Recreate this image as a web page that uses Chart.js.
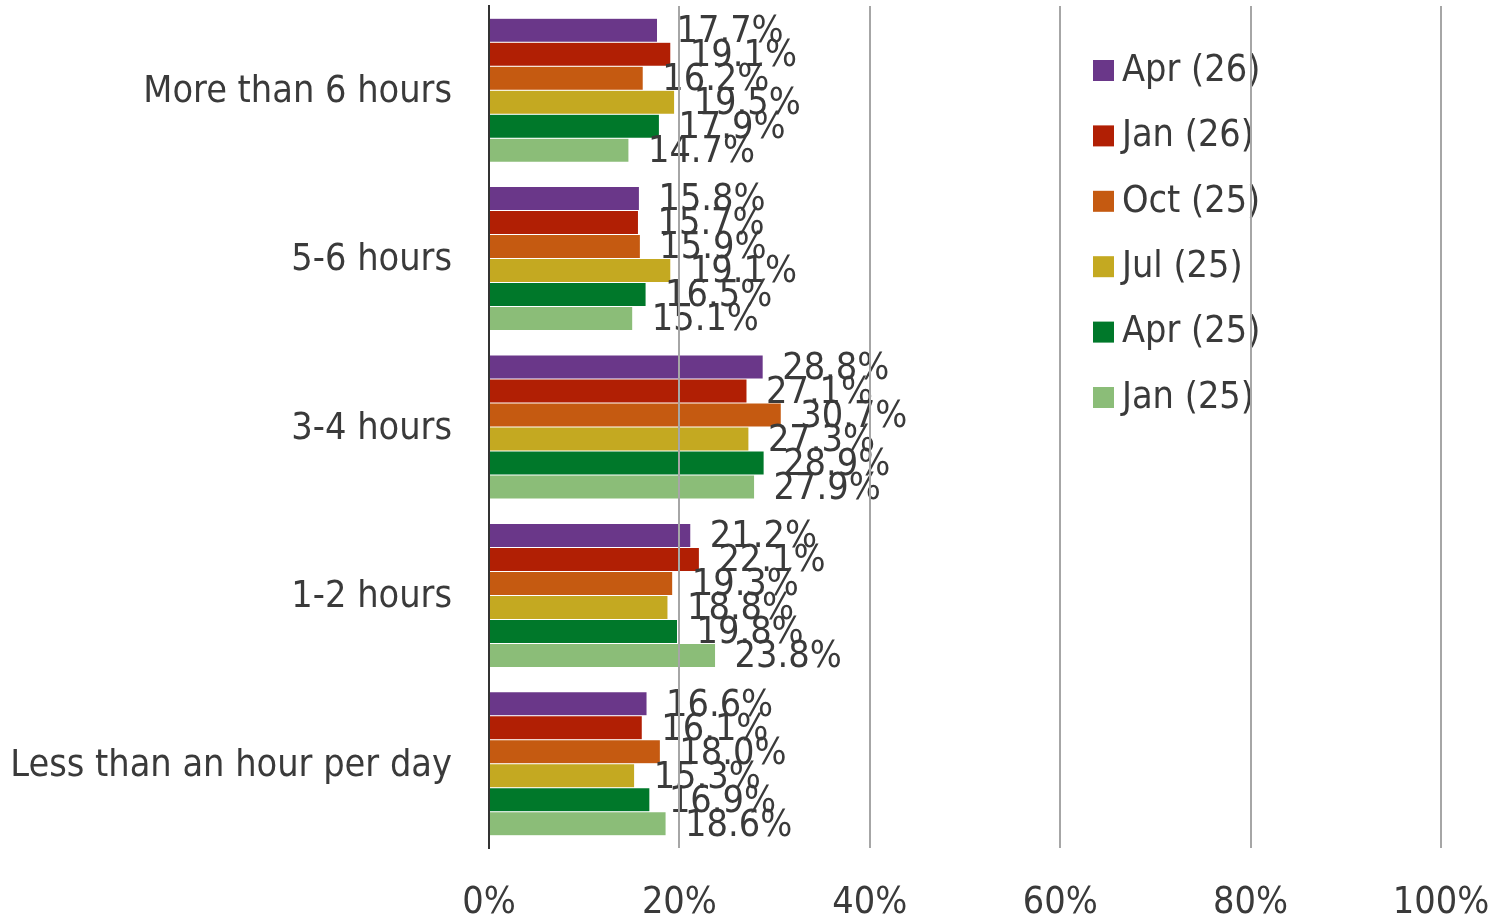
<!DOCTYPE html>
<html>
<head>
<meta charset="utf-8">
<script src="https://cdn.jsdelivr.net/npm/chart.js@4/dist/chart.umd.min.js"></script>
<style>
html,body{margin:0;padding:0;background:#fff;}
#wrap{width:1511px;height:919px;position:relative;}
</style>
</head>
<body>
<div id="wrap"><canvas id="c" width="1511" height="919"></canvas></div>
<script>
const categories = ["More than 6 hours", "5-6 hours", "3-4 hours", "1-2 hours", "Less than an hour per day"];
const seriesNames = ["Apr (26)", "Jan (26)", "Oct (25)", "Jul (25)", "Apr (25)", "Jan (25)"];
const apr26 = [17.7, 15.8, 28.8, 21.2, 16.6];
const jan26 = [19.1, 15.7, 27.1, 22.1, 16.1];
const oct25 = [16.2, 15.9, 30.7, 19.3, 18.0];
const jul25 = [19.5, 19.1, 27.3, 18.8, 15.3];
const apr25 = [17.9, 16.5, 28.9, 19.8, 16.9];
const jan25 = [14.7, 15.1, 27.9, 23.8, 18.6];
const xTicks = [0, 20, 40, 60, 80, 100];
const colors = ["#6A3789", "#B11F04", "#C55A11", "#C4A921", "#00782A", "#8BBD78"];

const FONT = '"DejaVu Sans Condensed", "DejaVu Sans", sans-serif';
const FS = 37.5;
const TXT = '#3a3a3a';

const allSeries = [apr26, jan26, oct25, jul25, apr25, jan25];
const datasets = allSeries.map((d, i) => ({
  label: seriesNames[i],
  data: d,
  backgroundColor: colors[i],
  borderColor: 'rgba(255,255,255,0.7)',
  borderWidth: 0.5,
  barPercentage: 1.0,
  categoryPercentage: 0.855
}));

const labelPlugin = {
  id: 'labels',
  afterDatasetsDraw(chart) {
    const ctx = chart.ctx;
    ctx.save();
    ctx.font = FS + 'px ' + FONT;
    ctx.fillStyle = TXT;
    ctx.textBaseline = 'middle';
    ctx.textAlign = 'left';
    chart.data.datasets.forEach((ds, i) => {
      const meta = chart.getDatasetMeta(i);
      meta.data.forEach((bar, j) => {
        ctx.fillText(ds.data[j].toFixed(1) + '%', bar.x + 19, bar.y + 2);
      });
    });
    // legend
    const lx = 1093, ly0 = 70, step = 65.4;
    chart.data.datasets.forEach((ds, i) => {
      const y = ly0 + i * step;
      ctx.fillStyle = ds.backgroundColor;
      ctx.fillRect(lx, y - 10, 21, 21);
      ctx.fillStyle = TXT;
      ctx.fillText(ds.label, lx + 29, y + 1);
    });
    ctx.restore();
  }
};

new Chart(document.getElementById('c'), {
  type: 'bar',
  data: { labels: categories, datasets },
  options: {
    indexAxis: 'y',
    responsive: false,
    animation: false,
    layout: { padding: { top: 6, right: 70, left: 0, bottom: 0 } },
    plugins: { legend: { display: false }, tooltip: { enabled: false } },
    scales: {
      x: {
        min: 0, max: 100,
        afterBuildTicks(scale) { scale.ticks = xTicks.map(v => ({ value: v })); },
        afterFit(scale) { scale.height = 71; scale.paddingLeft = 0; scale.paddingRight = 0; },
        grid: {
          z: 1,
          drawTicks: false,
          lineWidth: 2,
          color: ctx => ctx.index === 0 ? 'rgba(0,0,0,0)' : '#A6A6A6'
        },
        border: { display: false },
        ticks: {
          padding: 33,
          color: TXT,
          font: { family: FONT, size: FS },
          maxRotation: 0,
          callback: v => v + '%'
        }
      },
      y: {
        afterFit(scale) { scale.width = 489; scale.paddingTop = 0; scale.paddingBottom = 0; },
        grid: { display: false, drawTicks: false },
        border: { display: true, color: '#333333', width: 2, z: 2 },
        ticks: {
          padding: 37,
          labelOffset: 2,
          color: TXT,
          font: { family: FONT, size: FS }
        }
      }
    }
  },
  plugins: [labelPlugin]
});
</script>
</body>
</html>
